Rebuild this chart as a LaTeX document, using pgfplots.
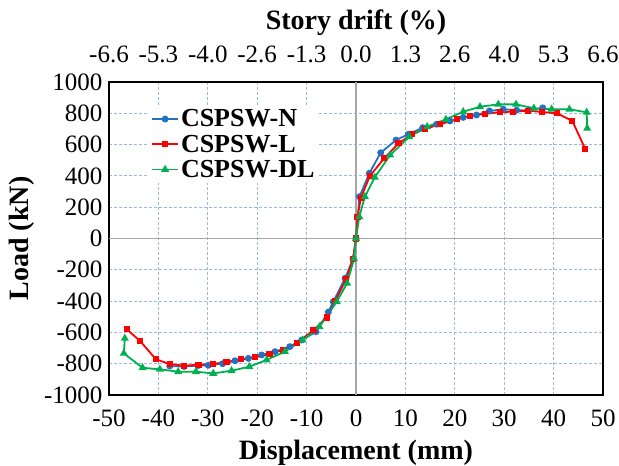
\documentclass[border=0pt]{standalone}
\usepackage{fontspec}
\setmainfont{Liberation Serif}
\usepackage{pgfplots}
\pgfplotsset{compat=1.18}
\definecolor{cblue}{RGB}{31,114,196}
\definecolor{cred}{RGB}{255,0,0}
\definecolor{cgreen}{RGB}{0,176,80}
\definecolor{gridblue}{RGB}{150,185,230}
\begin{document}
\begin{tikzpicture}
\useasboundingbox (-109pt,-71pt) rectangle (510pt,395pt);
\pgfplotsset{
 common/.style={scale only axis, width=494pt, height=313pt,
  at={(0pt,0pt)}, anchor=south west,
  xmin=-50, xmax=50, ymin=-1000, ymax=1000,
  xtick={-50,-40,...,50}, ytick={-1000,-800,...,1000},
  major tick length=0pt,
  /pgf/number format/assume math mode=true,
  tick label style={font=\fontsize{25}{29}\selectfont},
  label style={font=\fontsize{28}{32}\selectfont\bfseries}},
}
\begin{axis}[common, axis x line*=top, hide y axis, axis line style={draw=none},
  xticklabels={-6.6,-5.3,-4.0,-2.6,-1.3,0.0,1.3,2.6,4.0,5.3,6.6},
  xticklabel style={yshift=16pt},
  xlabel={Story drift (\%)},
  xlabel style={at={(axis description cs:0.5,1.19)}, anchor=center}]
\addplot[draw=none] coordinates {(0,0)};
\end{axis}
\begin{axis}[common,
  axis line style={line width=2pt, black},
  grid=major, major grid style={dash pattern=on 3pt off 2pt, gridblue, line width=0.8pt},
  extra x ticks={0}, extra x tick labels={},
  extra y ticks={0}, extra y tick labels={},
  extra tick style={major grid style={solid, gray!70, line width=1.2pt}},
  xticklabel style={yshift=-11pt},
  yticklabel style={xshift=-3pt, /pgf/number format/.cd, 1000 sep={}},
  xlabel={Displacement (mm)}, ylabel={Load (kN)},
  xlabel style={at={(axis description cs:0.5,-0.186)}, anchor=center},
  ylabel style={at={(axis description cs:-0.176,0.5)}, anchor=center},
  legend style={at={(axis description cs:0.081,0.925)}, anchor=north west, draw=none, fill=white,
    font=\fontsize{26}{28}\selectfont\bfseries, row sep=2.5pt, inner sep=2pt},
  legend cell align=left,
  legend image code/.code={\draw[mark repeat=2,mark phase=2] plot coordinates {(0pt,0pt)(13pt,0pt)(26pt,0pt)};},
  every axis plot/.append style={line width=1.8pt}
]
\addplot[cblue, mark=*, mark size=2.5pt] coordinates {
(-37.7,-815) (-34.8,-818) (-32,-812) (-29.9,-810) (-27,-800) (-24.5,-781) (-21.8,-766) (-19.1,-744) (-16.4,-723) (-13.4,-691) (-11,-649) (-8.1,-596) (-5.6,-470) (-4.6,-404) (-2.2,-254) (-0.6,-130) (0,0) (0.7,267) (2.7,417) (5.0,548) (8.1,629) (10.6,666) (13.5,708) (16.3,730) (19,751) (21.7,774) (24.4,789) (27,815) (29.8,826) (32.5,820) (35,820) (37.8,835)
};
\addlegendentry{CSPSW-N}
\addplot[cred, mark=square*, mark size=2.2pt] coordinates {
(-46.4,-580) (-43.7,-655) (-40.5,-772) (-37.7,-802) (-34.8,-813) (-31.9,-806) (-29,-802) (-26.2,-789) (-23.3,-772) (-20.4,-759) (-17.5,-738) (-14.7,-712) (-11.9,-666) (-8.6,-585) (-5.9,-505) (-4.2,-400) (-2,-260) (-0.6,-130) (0,0) (0.3,139) (1.0,260) (2.8,399) (5.7,512) (8.6,608) (11.3,666) (14,700) (17,730) (20.4,762) (23.1,783) (26.1,796) (29.1,808) (31.8,810) (34.8,817) (37.7,808) (40.7,800) (43.8,751) (46.4,572)
};
\addlegendentry{CSPSW-L}
\addplot[cgreen, mark=triangle*, mark size=2.9pt] coordinates {
(-46.8,-638) (-47,-734) (-43.2,-826) (-39.7,-836) (-36,-851) (-32.4,-851) (-28.9,-862) (-25.2,-845) (-21.6,-819) (-18.1,-776) (-14.4,-723) (-10.8,-649) (-7.4,-564) (-3.9,-404) (-1.8,-286) (-0.4,-130) (0,0) (0.67,139) (1.8,267) (3.8,391) (6.9,533) (10.8,650) (14.4,714) (18.2,761) (21.7,810) (25.1,842) (28.8,857) (32.4,857) (36,832) (39.6,826) (43.2,826) (46.7,806) (46.8,704)
};
\addlegendentry{CSPSW-DL}
\end{axis}
\end{tikzpicture}
\end{document}
